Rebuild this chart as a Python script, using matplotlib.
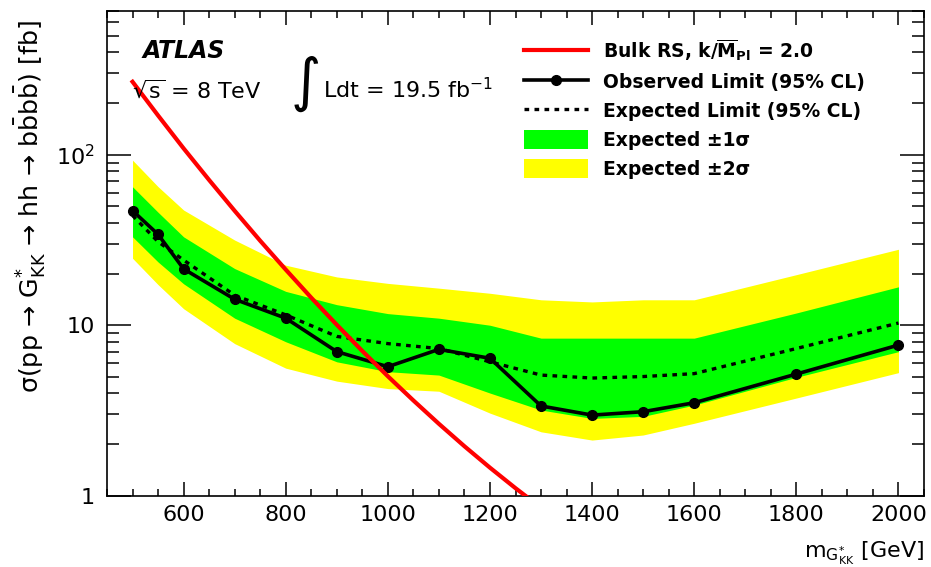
import numpy as np
import matplotlib
matplotlib.use("Agg")
import matplotlib.pyplot as plt
from matplotlib.lines import Line2D
from matplotlib.patches import Patch
from matplotlib.ticker import FixedLocator, NullFormatter, MultipleLocator

# Graviton mass points [GeV] and limits [fb]
mass = [500, 550, 600, 700, 800, 900, 1000, 1100, 1200, 1300, 1400, 1500, 1600, 1800, 2000]
observed = [47.0, 34.1, 21.4, 14.2, 11.0, 7.0, 5.71, 7.22, 6.40, 3.36, 2.97, 3.11, 3.51, 5.17, 7.65]
expected = [44.0, 30.9, 24.1, 15.0, 11.5, 8.6, 7.8, 7.3, 6.1, 5.1, 4.9, 5.0, 5.2, 7.3, 10.3]
band1_lo = [33.0, 23.5, 17.5, 11.0, 8.0, 6.1, 5.34, 5.1, 4.0, 3.18, 2.84, 2.92, 3.4, 4.95, 7.0]
band1_hi = [64.9, 46.0, 33.0, 21.5, 15.8, 13.2, 11.7, 11.0, 10.0, 8.4, 8.4, 8.4, 8.4, 11.8, 16.8]
band2_lo = [24.7, 17.3, 12.5, 7.8, 5.6, 4.7, 4.25, 4.1, 3.05, 2.37, 2.12, 2.27, 2.66, 3.74, 5.27]
band2_hi = [93.0, 65.0, 47.4, 31.6, 22.5, 19.2, 17.6, 16.5, 15.4, 14.1, 13.7, 14.1, 14.1, 19.8, 27.9]

# Bulk RS theory curve
theory_mass = [500, 550, 600, 650, 700, 750, 800, 850, 900, 950, 1000, 1050, 1100, 1150, 1200, 1250, 1300]
theory_xs = [268, 170, 109, 71.1, 46.9, 31.3, 21.2, 14.5, 10.06, 7.06, 5.02, 3.62, 2.64, 1.95, 1.46, 1.107, 0.85]

W, H = 931, 567
fig = plt.figure(figsize=(W / 100, H / 100), dpi=100)
ax = fig.add_axes([107 / W, 1 - 495.7 / H, (924 - 107) / W, (495.7 - 10.7) / H])

ax.fill_between(mass, band2_lo, band2_hi, color="#ffff00", lw=0, zorder=1)
ax.fill_between(mass, band1_lo, band1_hi, color="#00ff00", lw=0, zorder=2)
ax.plot(mass, expected, color="black", lw=2.4, ls=(0, (1.4, 1.6)), zorder=3)
ax.plot(mass, observed, color="black", lw=2.6, marker="o", ms=7, zorder=4)
ax.plot(theory_mass, theory_xs, color="#ff0000", lw=3, zorder=5, clip_on=True)

ax.set_yscale("log")
ax.set_xlim(450, 2050)
ax.set_ylim(1, 700)

# ticks, ROOT style
ax.xaxis.set_major_locator(MultipleLocator(200))
ax.xaxis.set_minor_locator(MultipleLocator(50))
ax.yaxis.set_major_locator(FixedLocator([1, 10, 100]))
ax.set_yticklabels(["1", "10", "$10^{2}$"])
minors = [m * 10 ** d for d in range(0, 3) for m in range(2, 10)]
ax.yaxis.set_minor_locator(FixedLocator(minors))
ax.yaxis.set_minor_formatter(NullFormatter())
ax.tick_params(axis="both", which="both", direction="in", top=True, right=True, width=1.1)
ax.tick_params(axis="x", which="major", length=10, labelsize=16, pad=7)
ax.tick_params(axis="x", which="minor", length=5)
ax.tick_params(axis="y", which="major", length=17, labelsize=16, pad=9)
ax.tick_params(axis="y", which="minor", length=8.5)
for s in ax.spines.values():
    s.set_linewidth(1.2)

# labels
fig.text(924 / W, 1 - 557 / H, r"m$_{\mathrm{G}^{*}_{\mathrm{KK}}}$ [GeV]",
         ha="right", va="baseline", fontsize=16)
fig.text(30 / W, 1 - 20 / H,
         "\u03c3(pp \u2192 G$^{*}_{\\mathrm{KK}}$ \u2192 hh \u2192 "
         "b$\\bar{\\mathrm{b}}$b$\\bar{\\mathrm{b}}$) [fb]",
         rotation=90, ha="center", va="top", fontsize=18.3)

fig.text(143 / W, 1 - 58.3 / H, "ATLAS", fontsize=17, fontweight="bold",
         fontstyle="italic", va="baseline")
fig.text(132 / W, 1 - 98 / H, r"$\sqrt{\mathrm{s}}$ = 8 TeV", fontsize=16, va="baseline")
fig.text(306 / W, 1 - 84 / H, "\u222b", fontsize=42, ha="center", va="center")
fig.text(323 / W, 1 - 98 / H, r"Ldt = 19.5 fb$^{-1}$", fontsize=16, va="baseline")

handles = [
    Line2D([], [], color="#ff0000", lw=3),
    Line2D([], [], color="black", lw=2.6, marker="o", ms=7),
    Line2D([], [], color="black", lw=2.4, ls=(0, (1.4, 1.6))),
    Patch(facecolor="#00ff00", edgecolor="none"),
    Patch(facecolor="#ffff00", edgecolor="none"),
]
labels = [
    r"Bulk RS, k/$\overline{\mathbf{M}}_{\mathbf{Pl}}$ = 2.0",
    "Observed Limit (95% CL)",
    "Expected Limit (95% CL)",
    "Expected \u00b11\u03c3",
    "Expected \u00b12\u03c3",
]
ax.legend(handles, labels, loc="upper left", bbox_to_anchor=(524 / W, 1 - 37 / H),
          bbox_transform=fig.transFigure, frameon=False, borderpad=0, borderaxespad=0,
          handlelength=3.4, handleheight=1.15, handletextpad=0.8, labelspacing=0.5,
          numpoints=1, prop={"weight": "bold", "size": 13.5})

fig.savefig("out.png", dpi=100)
